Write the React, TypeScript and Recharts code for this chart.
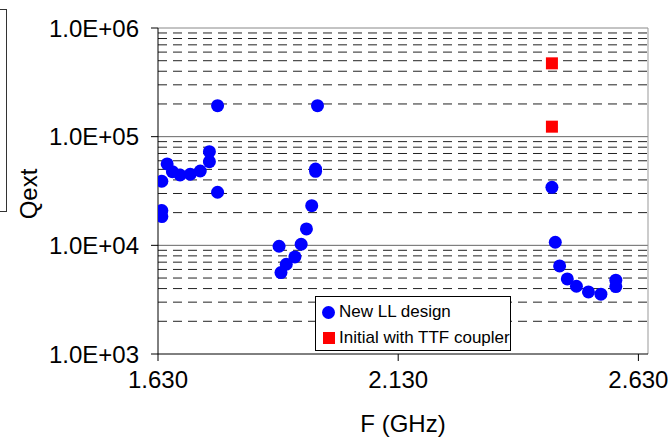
import React from 'react';
import { ScatterChart, Scatter, XAxis, YAxis, ReferenceLine, Legend } from 'recharts';

// Coupler external Q versus frequency
const newLLFreq = [
  1.638, 1.638, 1.638, 1.649, 1.660, 1.676, 1.697, 1.718, 1.737, 1.737, 1.754, 1.754,
  1.882, 1.886, 1.897, 1.915, 1.928, 1.939, 1.950, 1.958, 1.958, 1.962,
  2.450, 2.457, 2.466, 2.482, 2.501, 2.526, 2.552, 2.583, 2.583,
];
const newLLQext = [
  38900, 20900, 18400, 56100, 47600, 44400, 45100, 48300, 58900, 72800, 30800, 192800,
  9810, 5610, 6700, 7820, 10230, 14160, 23180, 50400, 48000, 192800,
  34200, 10680, 6460, 4910, 4200, 3725, 3550, 4775, 4170,
];
const ttfFreq = [2.450, 2.450];
const ttfQext = [473000, 123600];

const xTicks = [1.63, 2.13, 2.63];
const yTicks = [1e3, 1e4, 1e5, 1e6];
const majorGridValues = [1e4, 1e5];
const minorGridValues = [
  2e3, 3e3, 4e3, 5e3, 6e3, 7e3, 8e3, 9e3,
  2e4, 3e4, 4e4, 5e4, 6e4, 7e4, 8e4, 9e4,
  2e5, 3e5, 4e5, 5e5, 6e5, 7e5, 8e5, 9e5,
];

const newLLData = newLLFreq.map((f, i) => ({ f, q: newLLQext[i] }));
const ttfData = ttfFreq.map((f, i) => ({ f, q: ttfQext[i] }));

const FONT = '"Liberation Sans", Arial, sans-serif';
const tickStyle = { fill: '#000', fontSize: 24, fontFamily: FONT };

const formatSci = (v: number) => '1.0E+' + String(Math.round(Math.log10(v))).padStart(2, '0');

const BlueDot = (props: any) => <circle cx={props.cx} cy={props.cy} r={6.5} fill="#0000FF" />;
const RedSquare = (props: any) => (
  <rect x={props.cx - 6} y={props.cy - 6} width={12} height={12} fill="#FF0000" />
);

const renderLegend = (props: any) => {
  const payload = [...(props.payload || [])].sort((a: any, b: any) =>
    a.type === b.type ? 0 : a.type === 'circle' ? -1 : 1,
  );
  return (
    <div
      style={{
        border: '1px solid #000',
        background: '#fff',
        width: 194,
        height: 51,
        paddingTop: 2,
        boxSizing: 'content-box',
        fontFamily: FONT,
        fontSize: 17,
        color: '#000',
      }}
    >
      {payload.map((entry: any) => (
        <div key={entry.value} style={{ display: 'flex', alignItems: 'center', height: 26, paddingLeft: 6 }}>
          {entry.type === 'square' ? (
            <div style={{ width: 12, height: 12, background: entry.color, margin: '0 4px 0 1px' }} />
          ) : (
            <div style={{ width: 13, height: 13, borderRadius: '50%', background: entry.color, marginRight: 4 }} />
          )}
          <span style={{ whiteSpace: 'nowrap' }}>{entry.value}</span>
        </div>
      ))}
    </div>
  );
};

const YTitle = () => {
  const cy = 28 + 163 + 3;
  return (
    <text
      x={28}
      y={cy}
      transform={`rotate(-90, 28, ${cy})`}
      textAnchor="middle"
      dominantBaseline="central"
      style={{ fontSize: 24, fontFamily: FONT, fill: '#000' }}
    >
      Qext
    </text>
  );
};

const XTitle = (props: any) => {
  const vb = props.viewBox || {};
  const cx = (vb.x ?? 158) + (vb.width ?? 490) / 2;
  return (
    <text x={cx} y={423} textAnchor="middle" dominantBaseline="central" style={{ fontSize: 24, fontFamily: FONT, fill: '#000' }}>
      F (GHz)
    </text>
  );
};

export default function App() {
  return (
    <div style={{ position: 'absolute', left: 0, top: 0, width: 668, height: 440, background: '#fff', overflow: 'hidden' }}>
      <div
        style={{
          position: 'absolute',
          left: -30,
          top: 9,
          width: 35,
          height: 201,
          border: '1px solid #333',
        }}
      />
      <ScatterChart width={668} height={440} margin={{ top: 28, right: 20, bottom: 0, left: 0 }}>
        <XAxis
          dataKey="f"
          type="number"
          domain={[1.63, 2.65]}
          ticks={xTicks}
          interval={0}
          allowDataOverflow
          tickFormatter={(v: number) => v.toFixed(3)}
          tick={tickStyle}
          tickSize={7}
          tickMargin={10}
          axisLine={{ stroke: '#000' }}
          tickLine={{ stroke: '#000' }}
          height={86}
          label={<XTitle />}
        />
        <YAxis
          dataKey="q"
          type="number"
          scale="log"
          domain={[1000, 1000000]}
          ticks={yTicks}
          interval={0}
          allowDataOverflow
          tickFormatter={formatSci}
          tick={tickStyle}
          tickSize={7}
          tickMargin={12}
          axisLine={{ stroke: '#000' }}
          tickLine={{ stroke: '#000' }}
          width={158}
          label={<YTitle />}
        />
        {minorGridValues.map((v) => (
          <ReferenceLine key={'m' + v} y={v} stroke="#222" strokeDasharray="9 6" />
        ))}
        {majorGridValues.map((v) => (
          <ReferenceLine key={'M' + v} y={v} stroke="#666" />
        ))}
        <ReferenceLine y={1e6} stroke="#888" />
        <ReferenceLine x={2.65} stroke="#999" />
        <Legend
          layout="vertical"
          align="center"
          verticalAlign="middle"
          wrapperStyle={{ left: 315, top: 296, width: 'auto' }}
          content={renderLegend}
        />
        <Scatter
          name="New LL design"
          data={newLLData}
          fill="#0000FF"
          legendType="circle"
          shape={BlueDot}
          isAnimationActive={false}
        />
        <Scatter
          name="Initial with TTF coupler"
          data={ttfData}
          fill="#FF0000"
          legendType="square"
          shape={RedSquare}
          isAnimationActive={false}
        />
      </ScatterChart>
    </div>
  );
}
